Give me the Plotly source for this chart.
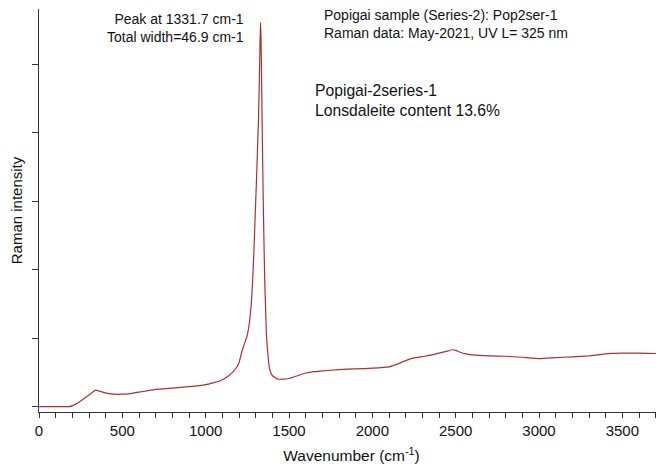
import plotly.graph_objects as go

wavenumber = [0, 100, 180, 200, 250, 300, 340, 370, 400, 450, 500, 550, 600, 650, 700, 800, 900,
              1000, 1050, 1081, 1120, 1161, 1185, 1200, 1217, 1230, 1247, 1258, 1267, 1275, 1281,
              1290, 1297, 1304, 1311, 1317, 1322, 1326, 1329, 1332, 1335, 1338, 1341, 1344, 1347,
              1351, 1355, 1358, 1361, 1365, 1371, 1381, 1390, 1401, 1431, 1460, 1500, 1550, 1600,
              1650, 1700, 1800, 1900, 2000, 2100, 2150, 2200, 2250, 2300, 2350, 2400, 2450, 2480,
              2500, 2530, 2560, 2600, 2700, 2800, 2900, 3000, 3100, 3200, 3300, 3400, 3500, 3600,
              3700, 3750]
intensity = [0.0, 0.0, 0.0, 0.01, 0.08, 0.17, 0.24, 0.22, 0.20, 0.18, 0.18, 0.19, 0.21, 0.23, 0.25,
             0.27, 0.29, 0.32, 0.35, 0.37, 0.42, 0.50, 0.57, 0.64, 0.80, 0.90, 1.02, 1.15, 1.32,
             1.55, 1.80, 2.30, 2.78, 3.25, 3.75, 4.20, 4.75, 5.30, 5.61, 5.40, 4.90, 4.30, 3.75,
             3.25, 2.78, 2.25, 1.80, 1.55, 1.32, 1.02, 0.83, 0.58, 0.50, 0.45, 0.40, 0.40, 0.41,
             0.45, 0.49, 0.51, 0.52, 0.54, 0.55, 0.56, 0.58, 0.62, 0.67, 0.71, 0.73, 0.75, 0.78,
             0.81, 0.83, 0.82, 0.79, 0.77, 0.755, 0.74, 0.735, 0.72, 0.70, 0.715, 0.725, 0.74,
             0.77, 0.78, 0.78, 0.775, 0.77]

x_ticks = [0, 500, 1000, 1500, 2000, 2500, 3000, 3500]
y_ticks = [0, 1, 2, 3, 4, 5]

# the page body has an 8px default margin; size the figure so the plot area lands
# at window pixels x 39..664, y 9..412
OFF = 8
W, H = 664 - OFF, 472 - OFF
PL, PR, PT, PB = 39, 664, 9, 412
ML, MR, MT, MB = PL - OFF, (OFF + W) - PR, PT - OFF, (OFF + H) - PB
PW, PH = PR - PL, PB - PT


def px(x):
    return (x - PL) / PW


def py(y):
    return (PB - y) / PH


FONT = "Liberation Sans, Arial, sans-serif"

fig = go.Figure()
fig.add_trace(go.Scatter(x=wavenumber, y=intensity, mode="lines",
                         line=dict(color="#A83232", width=1.2, shape="spline", smoothing=0.3),
                         showlegend=False, hoverinfo="x+y"))

ann = [
    dict(text="Peak at 1331.7 cm-1<br>Total width=46.9 cm-1", x=px(246), y=py(9),
         xanchor="right", yanchor="top", align="right", size=14),
    dict(text="Popigai sample (Series-2): Pop2ser-1<br>Raman data: May-2021, UV L= 325 nm",
         x=px(322), y=py(5), xanchor="left", yanchor="top", align="left", size=14),
    dict(text="Popigai-2series-1<br>Lonsdaleite content 13.6%", x=px(313), y=py(80),
         xanchor="left", yanchor="top", align="left", size=15.7),
]
for a in ann:
    fig.add_annotation(text=a["text"], x=a["x"], y=a["y"], xref="paper", yref="paper",
                       xanchor=a["xanchor"], yanchor=a["yanchor"], align=a["align"],
                       showarrow=False, font=dict(family=FONT, size=a["size"], color="#111"))

fig.update_layout(
    width=W, height=H,
    margin=dict(l=ML, r=MR, t=MT, b=MB, pad=0, autoexpand=False),
    paper_bgcolor="white", plot_bgcolor="white",
    font=dict(family=FONT, size=15, color="#111"),
    xaxis=dict(range=[0, 3750], tickvals=x_ticks, ticktext=[str(v) for v in x_ticks],
               ticks="outside", ticklen=5, tickwidth=1, tickcolor="#333", automargin=False,
               minor=dict(dtick=100, tick0=0, ticks="outside", ticklen=5, tickcolor="#333"),
               showline=True, linecolor="#333", linewidth=1, showgrid=False, zeroline=False,
               tickfont=dict(family=FONT, size=15, color="#111"),
               title=dict(text="Wavenumber (cm<sup>-1</sup>)", standoff=12,
                          font=dict(family=FONT, size=15.5, color="#111"))),
    yaxis=dict(range=[-0.08, 5.81], tickvals=y_ticks, showticklabels=False, automargin=False,
               ticks="outside", ticklen=6, tickwidth=1, tickcolor="#333",
               showline=True, linecolor="#333", linewidth=1, showgrid=False, zeroline=False,
               title=dict(text="Raman intensity", standoff=5,
                          font=dict(family=FONT, size=15, color="#111"))),
)

fig.write_html("out.html")
